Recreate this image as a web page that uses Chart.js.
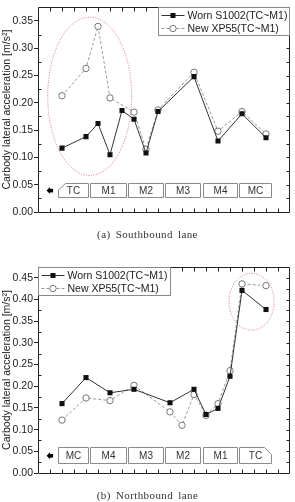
<!DOCTYPE html>
<html>
<head>
<meta charset="utf-8">
<script src="https://cdn.jsdelivr.net/npm/chart.js@4.4.0/dist/chart.umd.min.js"></script>
<style>
  body { margin: 0; background: #fff; }
  .panel { position: relative; width: 295px; height: 251px; }
  canvas { display: block; }
  .caption {
    position: absolute; left: 0; width: 295px; text-align: center;
    font-family: "Liberation Serif", "DejaVu Serif", serif; font-size: 11px;
    color: #333; letter-spacing: 0.4px; word-spacing: 2px;
  }
</style>
</head>
<body>
<div class="panel">
  <canvas id="south" width="295" height="251"></canvas>
  <div class="caption" style="top:228px">(a) Southbound lane</div>
</div>
<div class="panel">
  <canvas id="north" width="295" height="251"></canvas>
  <div class="caption" style="top:238px">(b) Northbound lane</div>
</div>
<script>
const southWornX = [2, 4, 5, 6, 7, 8, 9, 10, 13, 15, 17, 19];
const southWorn = [0.117, 0.138, 0.162, 0.105, 0.186, 0.170, 0.108, 0.184, 0.248, 0.130, 0.180, 0.136];
const southNewX = [2, 4, 5, 6, 8, 9, 10, 13, 15, 17, 19];
const southNew = [0.213, 0.263, 0.340, 0.209, 0.183, 0.115, 0.187, 0.256, 0.148, 0.184, 0.143];

const northWornX = [2, 4, 6, 8, 11, 13, 14, 15, 16, 17, 19];
const northWorn = [0.160, 0.220, 0.185, 0.193, 0.162, 0.193, 0.135, 0.149, 0.223, 0.421, 0.377];
const northNewX = [2, 4, 6, 8, 11, 12, 13, 14, 15, 16, 17, 19];
const northNew = [0.122, 0.173, 0.167, 0.202, 0.141, 0.110, 0.181, 0.133, 0.160, 0.236, 0.436, 0.432];

const southSections = ["TC", "M1", "M2", "M3", "M4", "MC"];
const northSections = ["MC", "M4", "M3", "M2", "M1", "TC"];
const seriesLabels = ["Worn S1002(TC~M1)", "New XP55(TC~M1)"];

// section box edges along x (data units)
const sectionEdges = [1.63, 4.27, 7.4, 10.52, 13.62, 16.69, 19.43];

const FONT = '"Liberation Sans", Arial, sans-serif';

function pts(xs, ys) {
  return xs.map((x, i) => ({ x: x, y: ys[i] }));
}

function marker(ctx, type, x, y) {
  ctx.save();
  ctx.setLineDash([]);
  if (type === 0) {
    ctx.fillStyle = "#111";
    ctx.fillRect(x - 2.5, y - 2.5, 5, 5);
  } else {
    ctx.fillStyle = "#fff";
    ctx.strokeStyle = "#777";
    ctx.lineWidth = 1;
    ctx.beginPath();
    ctx.arc(x, y, 3.2, 0, Math.PI * 2);
    ctx.fill();
    ctx.stroke();
  }
  ctx.restore();
}

const decor = {
  id: "decor",
  beforeDatasetsDraw(chart, args, o) {
    const ctx = chart.ctx;
    const xs = chart.scales.x, ys = chart.scales.y;
    ctx.save();
    // dotted ellipse
    const e = o.ellipse;
    const cx = xs.getPixelForValue(e.cx), cy = ys.getPixelForValue(e.cy);
    const rx = xs.getPixelForValue(e.cx + e.rx) - cx;
    const ry = cy - ys.getPixelForValue(e.cy + e.ry);
    ctx.strokeStyle = "#e06870";
    ctx.lineWidth = 1;
    ctx.setLineDash([1, 1.5]);
    ctx.beginPath();
    ctx.ellipse(cx, cy, rx, ry, 0, 0, Math.PI * 2);
    ctx.stroke();
    ctx.setLineDash([]);

    // section boxes
    const y0 = ys.getPixelForValue(o.boxY[1]), y1 = ys.getPixelForValue(o.boxY[0]);
    const gap = 0.09;
    ctx.font = "10px " + FONT;
    ctx.textAlign = "center";
    ctx.textBaseline = "middle";
    o.sections.forEach((name, i) => {
      const x0 = Math.round(xs.getPixelForValue(sectionEdges[i] + (i ? gap : 0))) + 0.5;
      const x1 = Math.round(xs.getPixelForValue(sectionEdges[i + 1] - (i < 5 ? gap : 0))) + 0.5;
      const t = Math.round(y0) + 0.5, b = Math.round(y1) + 0.5;
      const mid = t + (b - t) * 0.45;
      ctx.beginPath();
      if (i === 0 && o.chamfer === "left") {
        ctx.moveTo(x0, b); ctx.lineTo(x0, mid); ctx.lineTo(x0 + 7, t);
        ctx.lineTo(x1, t); ctx.lineTo(x1, b);
      } else if (i === 5 && o.chamfer === "right") {
        ctx.moveTo(x0, b); ctx.lineTo(x0, t); ctx.lineTo(x1 - 7, t);
        ctx.lineTo(x1, mid); ctx.lineTo(x1, b);
      } else {
        ctx.moveTo(x0, b); ctx.lineTo(x0, t); ctx.lineTo(x1, t); ctx.lineTo(x1, b);
      }
      ctx.closePath();
      ctx.fillStyle = "#fff";
      ctx.fill();
      ctx.strokeStyle = "#8a8a8a";
      ctx.stroke();
      ctx.fillStyle = "#333";
      ctx.fillText(name, (x0 + x1) / 2, (t + b) / 2 + 1);
    });
    // direction arrow
    const ax = xs.getPixelForValue(sectionEdges[0]) - 5;
    const ay = (y0 + y1) / 2 + 1;
    ctx.fillStyle = "#000";
    ctx.beginPath();
    ctx.moveTo(ax - 6, ay); ctx.lineTo(ax - 2.5, ay - 3.5); ctx.lineTo(ax - 2.5, ay + 3.5);
    ctx.closePath();
    ctx.fill();
    ctx.fillRect(ax - 3, ay - 1.8, 3.5, 3.6);
    ctx.restore();
  },
  afterDraw(chart, args, o) {
    const ctx = chart.ctx;
    const { left, right, top, bottom } = chart.chartArea;
    const xs = chart.scales.x, ys = chart.scales.y;
    ctx.save();
    ctx.strokeStyle = "#222";
    ctx.lineWidth = 1;
    ctx.beginPath();
    const L = Math.round(left) + 0.5, R = Math.round(right) - 0.5;
    const T = Math.round(top) + 0.5, B = Math.round(bottom) + 0.5;
    ctx.rect(L, T, R - L, B - T);
    // x ticks inward, bottom and top
    for (let v = 1; v < 21; v++) {
      const px = Math.round(xs.getPixelForValue(v)) + 0.5;
      ctx.moveTo(px, B); ctx.lineTo(px, B - 4);
      ctx.moveTo(px, T); ctx.lineTo(px, T + 4);
    }
    // y ticks inward on the right, minor inward on the left
    for (let v = 0.025; v < ys.max - 0.001; v += 0.025) {
      const py = Math.round(ys.getPixelForValue(v)) + 0.5;
      ctx.moveTo(R, py); ctx.lineTo(R - 3, py);
      if (Math.round(v * 1000) % 50 !== 0) { ctx.moveTo(L, py); ctx.lineTo(L + 3, py); }
    }
    ctx.stroke();

    // legend
    const lg = o.legend;
    const bx = lg.side === "right" ? R - 131 : L;
    const bw = lg.side === "right" ? R - bx : 132;
    ctx.fillStyle = "#fff";
    ctx.fillRect(bx, T, bw, 28);
    ctx.strokeStyle = "#8a8a8a";
    ctx.strokeRect(bx, T, bw, 28);
    ctx.font = "10.5px " + FONT;
    ctx.textAlign = "left";
    ctx.textBaseline = "middle";
    seriesLabels.forEach((label, i) => {
      const ry = T + 8 + i * 13;
      const sx = bx + 3;
      ctx.beginPath();
      ctx.strokeStyle = i === 0 ? "#333" : "#999";
      ctx.setLineDash(i === 0 ? [] : [3, 2]);
      ctx.moveTo(sx, ry); ctx.lineTo(sx + 23, ry);
      ctx.stroke();
      ctx.setLineDash([]);
      marker(ctx, i, sx + 11.5, ry);
      ctx.fillStyle = "#222";
      ctx.fillText(label, sx + 26, ry + 0.5);
    });
    ctx.restore();
  }
};

function makeChart(id, wornX, worn, newX, newer, cfg) {
  const ctx = document.getElementById(id).getContext("2d");
  return new Chart(ctx, {
    type: "line",
    data: {
      datasets: [
        {
          label: seriesLabels[0],
          data: pts(wornX, worn),
          borderColor: "#333",
          borderWidth: 1,
          pointStyle: "rect",
          pointRadius: 3.6,
          pointBackgroundColor: "#111",
          pointBorderColor: "#111",
          pointBorderWidth: 0,
          order: 1
        },
        {
          label: seriesLabels[1],
          data: pts(newX, newer),
          borderColor: "#9a9a9a",
          borderWidth: 1,
          borderDash: [3, 2],
          pointStyle: "circle",
          pointRadius: 3.2,
          pointBackgroundColor: "#fff",
          pointBorderColor: "#777",
          pointBorderWidth: 1,
          order: 2
        }
      ]
    },
    options: {
      responsive: false,
      animation: false,
      layout: { padding: { top: cfg.padTop, right: 2, left: 0, bottom: 0 } },
      plugins: {
        legend: { display: false },
        tooltip: { enabled: false },
        decor: cfg.decor
      },
      scales: {
        x: {
          type: "linear",
          min: 0,
          max: 21,
          grid: { display: false },
          border: { display: false },
          ticks: { display: false },
          afterFit: (s) => { s.height = cfg.xHeight; }
        },
        y: {
          min: 0,
          max: cfg.yMax,
          grid: { display: true, drawOnChartArea: false, drawTicks: true, tickLength: 4, color: "#222" },
          border: { display: false },
          ticks: {
            stepSize: 0.05,
            includeBounds: false,
            padding: 1,
            color: "#222",
            font: { family: FONT, size: 10.5 },
            callback: (v) => v.toFixed(2)
          },
          title: {
            display: true,
            text: "Carbody lateral acceleration [m/s²]",
            color: "#222",
            font: { family: FONT, size: 10.5 },
            padding: { top: 1, bottom: 0 }
          },
          afterFit: (s) => { s.width = 38; }
        }
      }
    },
    plugins: [decor]
  });
}

makeChart("south", southWornX, southWorn, southNewX, southNew, {
  padTop: 6, xHeight: 39, yMax: 0.375,
  decor: {
    sections: southSections, boxY: [0.028, 0.054], chamfer: "left",
    ellipse: { cx: 4.31, cy: 0.212, rx: 3.5, ry: 0.145 },
    legend: { side: "right" }
  }
});

makeChart("north", northWornX, northWorn, northNewX, northNew, {
  padTop: 16, xHeight: 29, yMax: 0.475,
  decor: {
    sections: northSections, boxY: [0.024, 0.060], chamfer: "right",
    ellipse: { cx: 17.8, cy: 0.395, rx: 1.88, ry: 0.0655 },
    legend: { side: "left" }
  }
});
</script>
</body>
</html>
